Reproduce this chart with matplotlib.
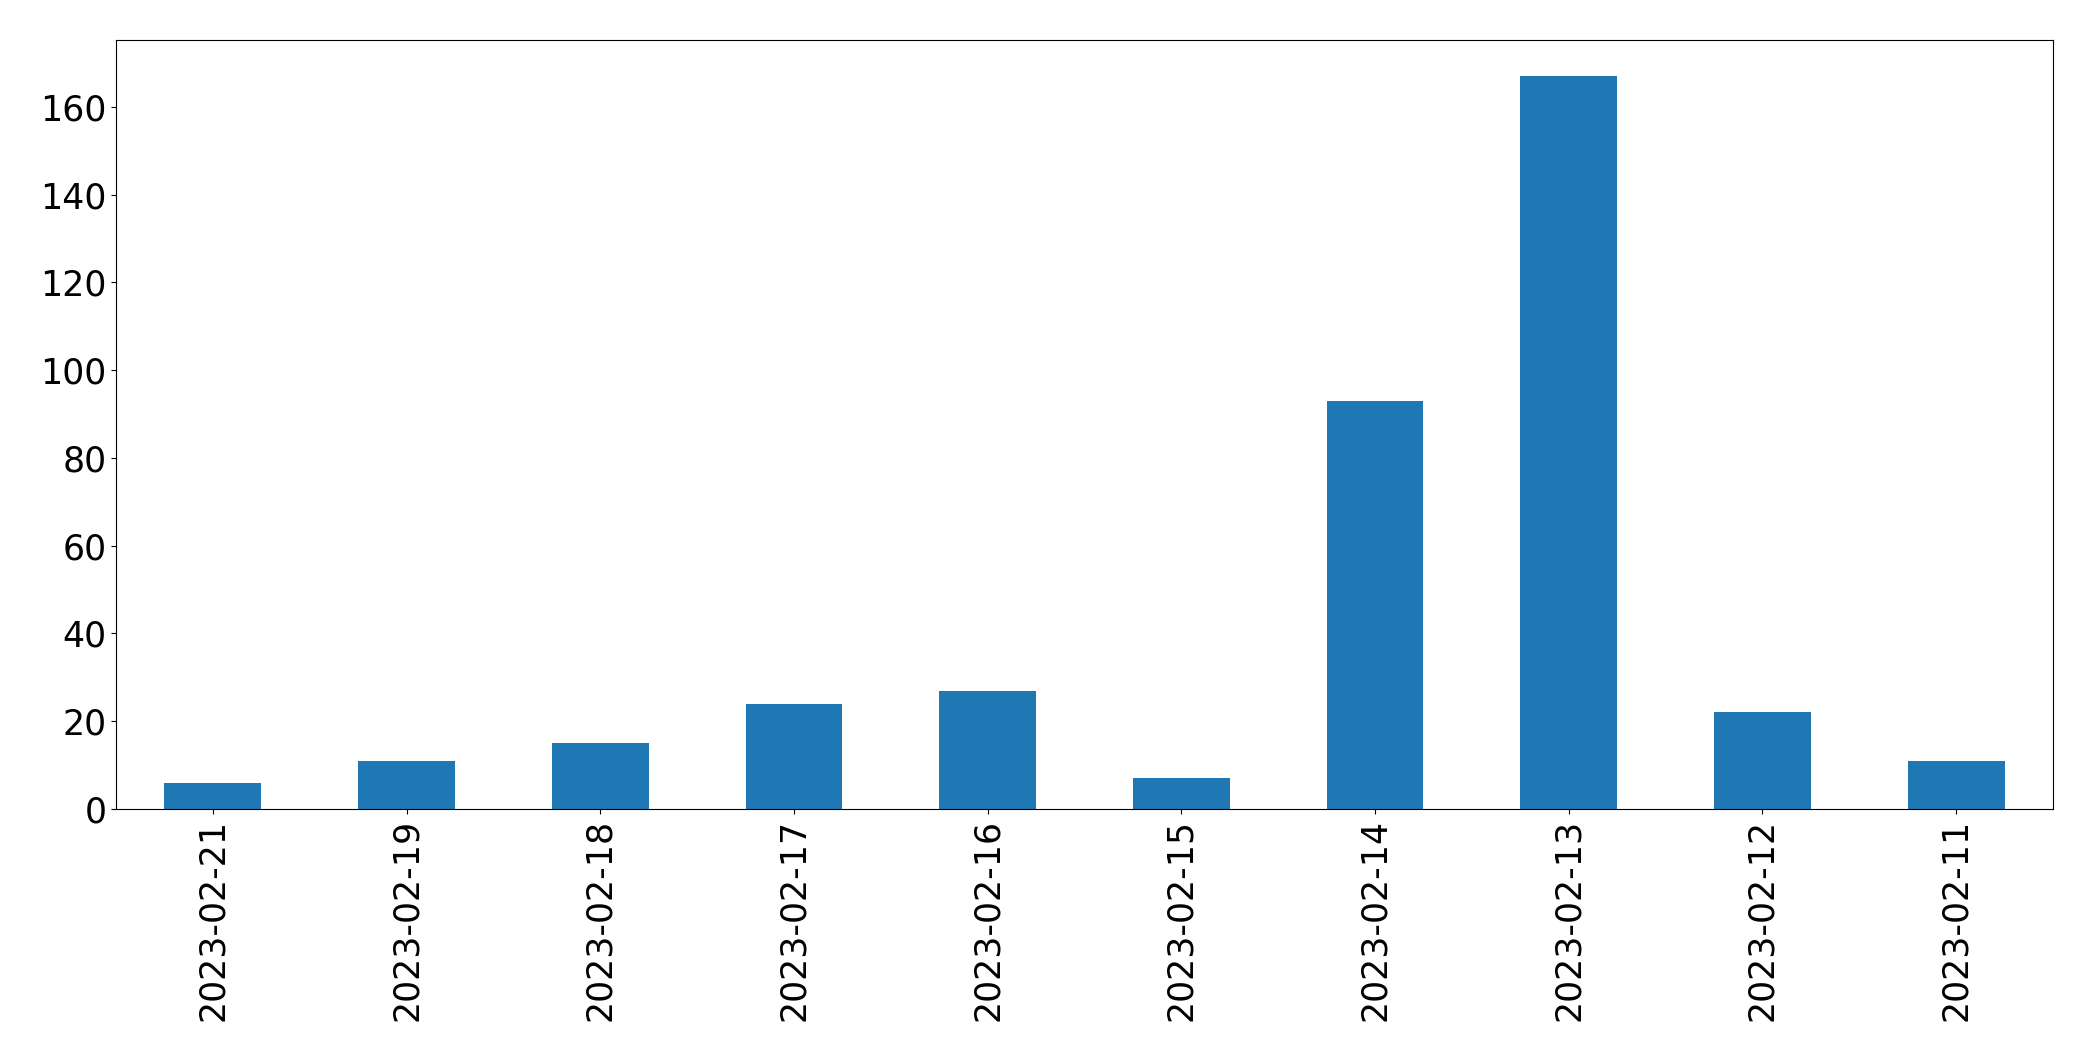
import matplotlib
matplotlib.use("Agg")
import matplotlib.pyplot as plt

dates = ["2023-02-21", "2023-02-19", "2023-02-18", "2023-02-17", "2023-02-16",
         "2023-02-15", "2023-02-14", "2023-02-13", "2023-02-12", "2023-02-11"]
counts = [6, 11, 15, 24, 27, 7, 93, 167, 22, 11]

fig = plt.figure(figsize=(20.93, 10.61), dpi=100)
ax = fig.add_axes([116/2093, 1 - 809/1061, (2053-116)/2093, (809-39.5)/1061])
x = list(range(len(dates)))
ax.bar(x, counts, width=0.5, color="#1f77b4")
ax.set_xlim(-0.5, len(dates) - 0.5)
ax.set_ylim(0, max(counts) * 1.05)
ax.set_xticks(x)
ax.set_xticklabels(dates, rotation=90)
ax.tick_params(axis="both", labelsize=25)
fig.savefig("out.png", dpi=100)
